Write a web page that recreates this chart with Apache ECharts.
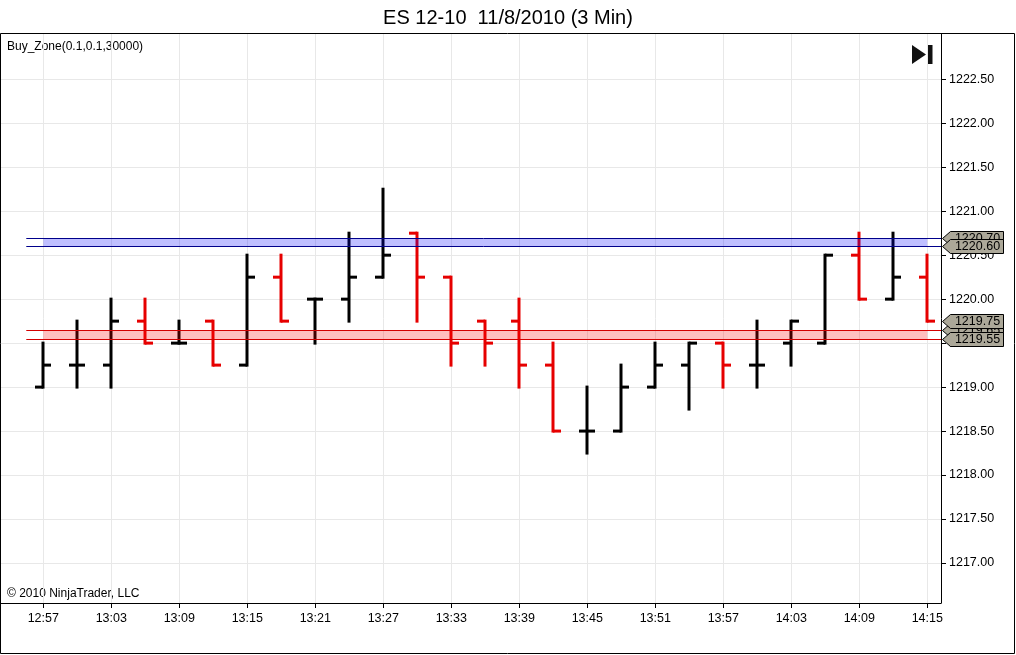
<!DOCTYPE html>
<html style="height: 100%">
<head>
    <meta charset="utf-8">
</head>
<body style="height: 100%; margin: 0; background: #fff">
    <div id="container" style="width: 1016px; height: 655px"></div>
    <script type="text/javascript" src="https://cdn.jsdelivr.net/npm/echarts@6/dist/echarts.min.js"></script>
    <script type="text/javascript">
        // 3 min bars, ES 12-10
        var times = ['12:57', '13:00', '13:03', '13:06', '13:09', '13:12', '13:15', '13:18', '13:21',
            '13:24', '13:27', '13:30', '13:33', '13:36', '13:39', '13:42', '13:45', '13:48',
            '13:51', '13:54', '13:57', '14:00', '14:03', '14:06', '14:09', '14:12', '14:15'];
        var opens = [1219.00, 1219.25, 1219.25, 1219.75, 1219.50, 1219.75, 1219.25, 1220.25, 1220.00,
            1220.00, 1220.25, 1220.75, 1220.25, 1219.75, 1219.75, 1219.25, 1218.50, 1218.50,
            1219.00, 1219.25, 1219.50, 1219.25, 1219.50, 1219.50, 1220.50, 1220.00, 1220.25];
        var highs = [1219.50, 1219.75, 1220.00, 1220.00, 1219.75, 1219.75, 1220.50, 1220.50, 1220.00,
            1220.75, 1221.25, 1220.75, 1220.25, 1219.75, 1220.00, 1219.50, 1219.00, 1219.25,
            1219.50, 1219.50, 1219.50, 1219.75, 1219.75, 1220.50, 1220.75, 1220.75, 1220.50];
        var lows = [1219.00, 1219.00, 1219.00, 1219.50, 1219.50, 1219.25, 1219.25, 1219.75, 1219.50,
            1219.75, 1220.25, 1219.75, 1219.25, 1219.25, 1219.00, 1218.50, 1218.25, 1218.50,
            1219.00, 1218.75, 1219.00, 1219.00, 1219.25, 1219.50, 1220.00, 1220.00, 1219.75];
        var closes = [1219.25, 1219.25, 1219.75, 1219.50, 1219.50, 1219.25, 1220.25, 1219.75, 1220.00,
            1220.25, 1220.50, 1220.25, 1219.50, 1219.50, 1219.25, 1218.50, 1218.50, 1219.00,
            1219.25, 1219.50, 1219.25, 1219.25, 1219.75, 1220.50, 1220.00, 1220.25, 1219.75];

        // Buy_Zone bands (upper = blue, lower = red)
        var zoneLow = [1220.60, 1219.55];
        var zoneHigh = [1220.70, 1219.65];

        // axis ticks
        var xTickIdx = [0, 2, 4, 6, 8, 10, 12, 14, 16, 18, 20, 22, 24, 26];
        var yTicks = [1217.00, 1217.50, 1218.00, 1218.50, 1219.00, 1219.50, 1220.00,
            1220.50, 1221.00, 1221.50, 1222.00, 1222.50];

        var FONT = 'Arial, "Liberation Sans", sans-serif';
        var UP = '#000000', DOWN = '#e60000';

        var barData = times.map(function (t, i) {
            return [i, opens[i], highs[i], lows[i], closes[i]];
        });

        var zoneData = zoneLow.map(function (lo, i) {
            return [i, lo, zoneHigh[i]];
        });
        var zoneFill = ['rgba(0,0,255,0.25)', 'rgba(255,0,0,0.25)'];
        var zoneLine = ['#00008b', '#d40000'];

        var lastClose = closes[closes.length - 1];
        // draw order matters, later ones cover earlier ones
        var priceTags = [zoneHigh[0], zoneLow[0], zoneHigh[1], lastClose, zoneLow[1]];

        function renderBar(params, api) {
            var i = api.value(0);
            var o = api.coord([i, api.value(1)]);
            var h = api.coord([i, api.value(2)]);
            var l = api.coord([i, api.value(3)]);
            var c = api.coord([i, api.value(4)]);
            var color = api.value(4) >= api.value(1) ? UP : DOWN;
            var x = Math.round(h[0]);
            var st = { fill: color };
            return {
                type: 'group',
                children: [
                    { type: 'rect', shape: { x: x - 1.5, y: h[1] - 1.5, width: 3, height: l[1] - h[1] + 3 }, style: st },
                    { type: 'rect', shape: { x: x - 8, y: o[1] - 1.5, width: 8, height: 3 }, style: st },
                    { type: 'rect', shape: { x: x, y: c[1] - 1.5, width: 8, height: 3 }, style: st }
                ]
            };
        }

        function renderZone(params, api) {
            var k = api.value(0);
            var lo = api.value(1), hi = api.value(2);
            var cs = params.coordSys;
            var right = cs.x + cs.width;
            var a = api.coord([0, hi]);
            var b = api.coord([times.length - 1, lo]);
            var s = api.coord([-0.5, hi]);
            var yl = Math.round(b[1]) + 0.5, yh = Math.round(a[1]) + 0.5;
            return {
                type: 'group',
                children: [
                    { type: 'rect', shape: { x: a[0], y: yh, width: b[0] - a[0], height: yl - yh }, style: { fill: zoneFill[k] } },
                    { type: 'line', shape: { x1: s[0], y1: yh, x2: right, y2: yh }, style: { stroke: zoneLine[k], lineWidth: 1 } },
                    { type: 'line', shape: { x1: s[0], y1: yl, x2: right, y2: yl }, style: { stroke: zoneLine[k], lineWidth: 1 } }
                ]
            };
        }

        function renderTag(params, api) {
            var v = api.value(0);
            var cs = params.coordSys;
            var x0 = cs.x + cs.width + 1.5;
            var y = Math.round(api.coord([0, v])[1]) + 0.5;
            return {
                type: 'group',
                children: [
                    {
                        type: 'polygon',
                        shape: { points: [[x0, y], [x0 + 8, y - 7], [x0 + 61, y - 7], [x0 + 61, y + 7], [x0 + 8, y + 7]] },
                        style: { fill: '#aca899', stroke: '#000', lineWidth: 1 }
                    },
                    {
                        type: 'text',
                        x: x0 + 35, y: y + 0.5,
                        style: { text: v.toFixed(2), fill: '#000', font: '12.5px ' + FONT, align: 'center', verticalAlign: 'middle' }
                    }
                ]
            };
        }

        var dom = document.getElementById("container");
        var myChart = echarts.init(dom);

        var option = {
            backgroundColor: '#ffffff',
            animation: false,
            textStyle: { fontFamily: FONT },
            title: {
                text: 'ES 12-10  11/8/2010 (3 Min)',
                left: 'center',
                top: 3,
                textStyle: { fontSize: 20, fontWeight: 'normal', color: '#000', fontFamily: FONT }
            },
            grid: { left: 1, top: 34, right: 75, bottom: 52 },
            xAxis: {
                type: 'value',
                min: -1.244,
                max: 26.403,
                axisLine: { onZero: false, lineStyle: { color: '#000', width: 1 } },
                axisTick: { customValues: xTickIdx, length: 5, lineStyle: { color: '#000' } },
                axisLabel: {
                    customValues: xTickIdx,
                    formatter: function (v) { return times[v]; },
                    color: '#000', fontSize: 12.5, fontFamily: FONT, margin: 9
                },
                splitLine: { show: true, lineStyle: { color: '#e8e8e8', width: 1 } }
            },
            yAxis: {
                type: 'value',
                position: 'right',
                min: 1216.545,
                max: 1223.015,
                splitNumber: 13,
                axisLine: { show: true, onZero: false, lineStyle: { color: '#000', width: 1 } },
                axisTick: { show: true, customValues: yTicks, length: 5, lineStyle: { color: '#000' } },
                axisLabel: {
                    customValues: yTicks,
                    formatter: function (v) { return v.toFixed(2); },
                    color: '#000', fontSize: 12.5, fontFamily: FONT, margin: 8
                },
                splitLine: { show: true, lineStyle: { color: '#e8e8e8', width: 1 } }
            },
            graphic: [
                { type: 'rect', shape: { x: 0.5, y: 33.5, width: 1014, height: 620 }, style: { fill: null, stroke: '#000', lineWidth: 1 }, z: 10 },
                { type: 'text', left: 7, top: 41, style: { text: 'Buy_Zone(0.1,0.1,30000)', font: '12px ' + FONT, fill: '#000' } },
                { type: 'text', left: 7, top: 588, style: { text: '\u00a9 2010 NinjaTrader, LLC', font: '12px ' + FONT, fill: '#000' } },
                { type: 'polygon', shape: { points: [[912, 45], [926, 54.5], [912, 64]] }, style: { fill: '#111' } },
                { type: 'rect', shape: { x: 928, y: 45, width: 4.5, height: 19 }, style: { fill: '#111' } }
            ],
            series: [
                {
                    name: 'ES 12-10',
                    type: 'custom',
                    renderItem: renderBar,
                    data: barData,
                    z: 3
                },
                {
                    name: 'Buy_Zone',
                    type: 'custom',
                    renderItem: renderZone,
                    data: zoneData,
                    z: 4
                },
                {
                    name: 'tags',
                    type: 'custom',
                    renderItem: renderTag,
                    clip: false,
                    data: priceTags.map(function (v) { return [v]; }),
                    z: 5
                }
            ]
        };

        if (option && typeof option === "object") {
            myChart.setOption(option, true);
        }
    </script>
</body>
</html>
